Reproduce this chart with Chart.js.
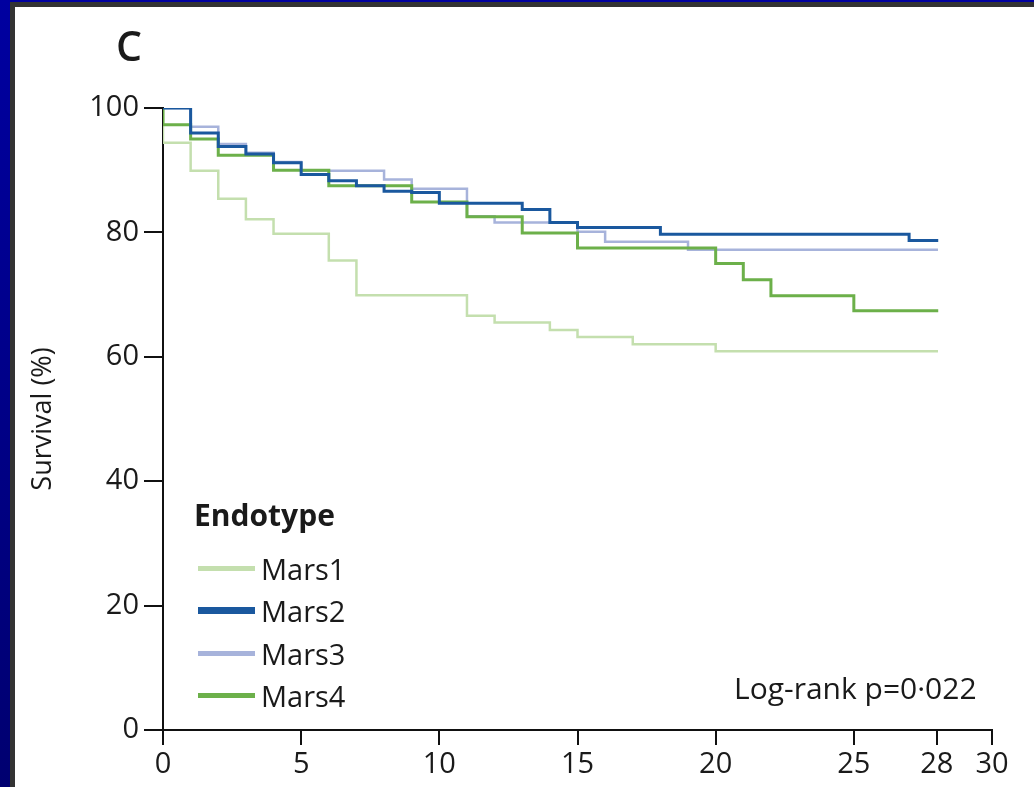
<!DOCTYPE html>
<html>
<head>
<meta charset="utf-8">
<script src="https://cdn.jsdelivr.net/npm/chart.js@4.4.1/dist/chart.umd.min.js"></script>
<style>
  html, body { margin: 0; padding: 0; }
  body {
    width: 1034px; height: 787px; overflow: hidden; position: relative;
    background: linear-gradient(#0000a0, #000070);
    font-family: "Open Sans", "DejaVu Sans", sans-serif;
  }
  #panel {
    position: absolute; left: 10px; top: 2px; right: 0; bottom: 0;
    background: #fff; border-left: 5px solid #333; border-top: 5px solid #333;
  }
  #wrap { position: absolute; left: 0; top: 0; width: 1034px; height: 787px; }
  .txt { position: absolute; color: #1a1a1a; white-space: nowrap; line-height: 1; }
  #panelLabel { left: 116px; top: 25px; font-size: 41px; font-weight: 600; }
  #pval { left: 734px; top: 673px; font-size: 30px; }
  #legend { position: absolute; left: 194px; top: 500px; }
  #legend .title { font-weight: bold; font-size: 30px; color: #1a1a1a; line-height: 1; margin-bottom: 17px; }
  #legend .row { display: flex; align-items: center; height: 42.5px; margin-left: 4px; }
  #legend .swatch { width: 57px; margin-right: 6px; }
  #legend .name { font-size: 29px; color: #1a1a1a; }
</style>
</head>
<body>
<div id="panel"></div>
<div id="wrap"><canvas id="chart" width="1034" height="787"></canvas></div>
<div class="txt" id="panelLabel">C</div>
<div id="legend"></div>
<div class="txt" id="pval">Log-rank p=0·022</div>
<script>
// Kaplan–Meier survival by endotype: days since admission vs. survival (%)
const seriesNames = ["Mars1", "Mars2", "Mars3", "Mars4"];
const seriesColors = ["#c4dfae", "#1a589e", "#a7b3db", "#6cb04a"];
const lineWidths = [2.5, 3, 2.5, 3];
const legendWidths = [5, 7, 5, 5];

const mars1Days = [0, 0, 1, 2, 3, 4, 6, 7, 11, 12, 14, 15, 17, 20, 28];
const mars1Surv = [100, 94.4, 89.9, 85.4, 82.1, 79.8, 75.5, 69.9, 66.6, 65.5, 64.3, 63.2, 62.0, 60.9, 60.9];

const mars2Days = [0, 1, 2, 3, 4, 5, 6, 7, 8, 9, 10, 13, 14, 15, 18, 27, 28];
const mars2Surv = [100, 96.0, 93.8, 92.6, 91.2, 89.3, 88.3, 87.5, 86.6, 86.4, 84.7, 83.7, 81.6, 80.8, 79.7, 78.7, 78.7];

const mars3Days = [0, 1, 2, 3, 4, 5, 8, 9, 11, 12, 15, 16, 19, 28];
const mars3Surv = [100, 97.0, 94.2, 92.8, 91.3, 89.9, 88.5, 87.0, 82.6, 81.6, 80.1, 78.5, 77.2, 77.2];

const mars4Days = [0, 0, 1, 2, 4, 6, 9, 11, 13, 15, 20, 21, 22, 25, 28];
const mars4Surv = [100, 97.3, 95.0, 92.4, 90.0, 87.5, 84.9, 82.5, 79.9, 77.5, 75.0, 72.4, 69.8, 67.4, 67.4];

const xTickValues = [0, 5, 10, 15, 20, 25, 28, 30];
const yTickValues = [0, 20, 40, 60, 80, 100];

const allDays = [mars1Days, mars2Days, mars3Days, mars4Days];
const allSurv = [mars1Surv, mars2Surv, mars3Surv, mars4Surv];

const datasets = seriesNames.map((name, i) => ({
  label: name,
  data: allDays[i].map((d, j) => ({ x: d, y: allSurv[i][j] })),
  borderColor: seriesColors[i],
  borderWidth: lineWidths[i],
  stepped: 'before',
  pointRadius: 0,
  fill: false,
  borderCapStyle: 'square',
  order: [3, 0, 2, 1][i]
}));

const tickFont = { family: "'Open Sans', sans-serif", size: 29 };

new Chart(document.getElementById('chart'), {
  type: 'line',
  data: { datasets },
  options: {
    responsive: false,
    animation: false,
    layout: { padding: { left: 0, top: 108, right: 42, bottom: 0 } },
    plugins: { legend: { display: false }, tooltip: { enabled: false } },
    scales: {
      x: {
        type: 'linear', min: 0, max: 30,
        afterBuildTicks: s => { s.ticks = xTickValues.map(v => ({ value: v })); },
        afterFit: s => { s.height = 57; },
        border: { color: '#111', width: 2 },
        grid: { drawOnChartArea: false, drawTicks: true, tickLength: 15, color: '#111', lineWidth: 2 },
        ticks: { autoSkip: false, maxRotation: 0, color: '#1a1a1a', font: tickFont, padding: 2 }
      },
      y: {
        min: 0, max: 100,
        afterBuildTicks: s => { s.ticks = yTickValues.map(v => ({ value: v })); },
        afterFit: s => { s.width = 163; },
        border: { color: '#111', width: 2 },
        grid: { drawOnChartArea: false, drawTicks: true, tickLength: 19, color: '#111', lineWidth: 2 },
        ticks: { color: '#1a1a1a', font: tickFont, padding: 5 },
        title: {
          display: true, text: 'Survival (%)', color: '#1a1a1a',
          font: { family: "'Open Sans', sans-serif", size: 27 },
          padding: { top: 27 }
        }
      }
    }
  }
});

// Legend built from the same series arrays
const legend = document.getElementById('legend');
const title = document.createElement('div');
title.className = 'title';
title.textContent = 'Endotype';
legend.appendChild(title);
seriesNames.forEach((name, i) => {
  const row = document.createElement('div');
  row.className = 'row';
  const sw = document.createElement('div');
  sw.className = 'swatch';
  sw.style.height = legendWidths[i] + 'px';
  sw.style.background = seriesColors[i];
  const label = document.createElement('span');
  label.className = 'name';
  label.textContent = name;
  row.appendChild(sw);
  row.appendChild(label);
  legend.appendChild(row);
});
</script>
</body>
</html>
